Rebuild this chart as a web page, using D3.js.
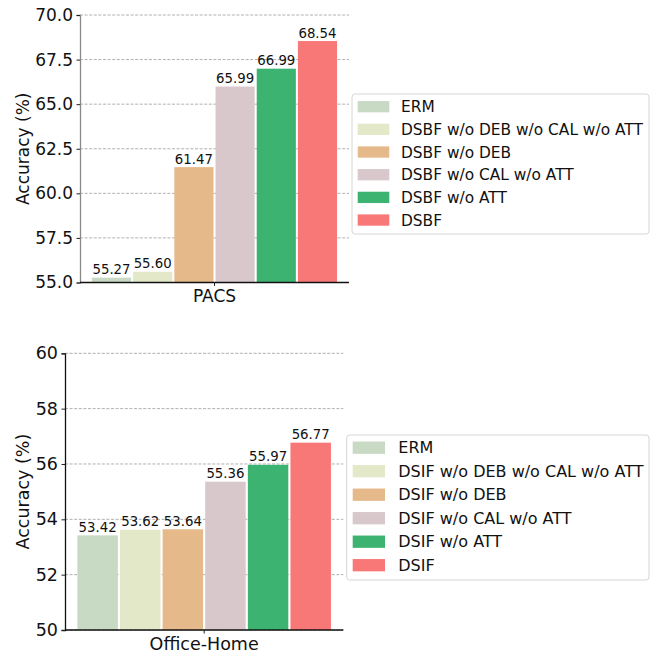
<!DOCTYPE html>
<html>
<head>
<meta charset="utf-8">
<script src="https://d3js.org/d3.v7.min.js"></script>
<style>
  body { margin: 0; background: #fff; }
  text { font-family: "DejaVu Sans", sans-serif; fill: #111; }
</style>
</head>
<body>
<svg width=652 height=654></svg>
<script>
// data
var colors = ["#c8dac4", "#e2e8c8", "#e6b98a", "#d8c8cc", "#3cb371", "#f87878"]

var pacsNames = ["ERM", "DSBF w/o DEB w/o CAL w/o ATT", "DSBF w/o DEB", "DSBF w/o CAL w/o ATT", "DSBF w/o ATT", "DSBF"]
var pacsValues = [55.27, 55.60, 61.47, 65.99, 66.99, 68.54]
var pacsTicks = [55.0, 57.5, 60.0, 62.5, 65.0, 67.5, 70.0]

var ohNames = ["ERM", "DSIF w/o DEB w/o CAL w/o ATT", "DSIF w/o DEB", "DSIF w/o CAL w/o ATT", "DSIF w/o ATT", "DSIF"]
var ohValues = [53.42, 53.62, 53.64, 55.36, 55.97, 56.77]
var ohTicks = [50, 52, 54, 56, 58, 60]

var svg = d3.select('svg')

function panel(cfg) {
  var g = svg.append('g')
  var x = d3.scaleBand()
    .domain(d3.range(cfg.values.length))
    .range([cfg.left, cfg.right])
    .paddingInner(0.05)
    .paddingOuter(0.29)
  var y = d3.scaleLinear()
    .domain(cfg.domain)
    .range([cfg.bottom, cfg.top])

  // grid
  g.selectAll('.grid')
    .data(cfg.ticks)
    .enter().append('line')
    .attr('x1', cfg.left)
    .attr('x2', cfg.right)
    .attr('y1', d => y(d))
    .attr('y2', d => y(d))
    .attr('stroke', '#b0b0b0')
    .attr('stroke-width', 1)
    .attr('stroke-dasharray', '3,1.6')

  // bars
  g.selectAll('.bar')
    .data(cfg.values)
    .enter().append('rect')
    .attr('x', (d, i) => x(i))
    .attr('width', x.bandwidth())
    .attr('y', d => y(d))
    .attr('height', d => cfg.bottom - y(d))
    .attr('fill', (d, i) => colors[i])

  // value labels
  g.selectAll('.lbl')
    .data(cfg.values)
    .enter().append('text')
    .attr('x', (d, i) => x(i) + x.bandwidth() / 2)
    .attr('y', d => y(d) - 3.5)
    .attr('text-anchor', 'middle')
    .style('font-size', '13.3px')
    .text(d => d.toFixed(2))

  // y axis
  var yAxis = d3.axisLeft(y)
    .tickValues(cfg.ticks)
    .tickFormat(cfg.fmt)
    .tickSize(3.5)
    .tickPadding(3.5)
  var ya = g.append('g')
    .attr('transform', 'translate(' + cfg.left + ',0)')
    .call(yAxis)
  ya.select('.domain').attr('stroke', cfg.spine).attr('stroke-width', 1.3)
  ya.selectAll('.tick line').attr('stroke', '#222').attr('stroke-width', 1)
  ya.selectAll('.tick text')
    .style('font-size', cfg.tickSize + 'px')
    .style('font-family', '"DejaVu Sans", sans-serif')
    .attr('fill', '#111')

  // x axis spine + single tick
  g.append('line')
    .attr('x1', cfg.left).attr('x2', cfg.right)
    .attr('y1', cfg.bottom).attr('y2', cfg.bottom)
    .attr('stroke', '#111').attr('stroke-width', 1.3)
  var cx = (cfg.left + cfg.right) / 2
  g.append('line')
    .attr('x1', cx).attr('x2', cx)
    .attr('y1', cfg.bottom).attr('y2', cfg.bottom + 3.5)
    .attr('stroke', '#222')
  g.append('text')
    .attr('x', cx)
    .attr('y', cfg.bottom + cfg.xlabY)
    .attr('text-anchor', 'middle')
    .style('font-size', cfg.tickSize + 'px')
    .text(cfg.xlabel)

  // y label
  g.append('text')
    .attr('transform', 'translate(' + cfg.ylabX + ',' + ((cfg.top + cfg.bottom) / 2) + ') rotate(-90)')
    .attr('text-anchor', 'middle')
    .style('font-size', cfg.tickSize + 'px')
    .text('Accuracy (%)')

  // legend
  var L = cfg.legend
  g.append('rect')
    .attr('x', L.x).attr('y', L.y)
    .attr('width', L.w).attr('height', L.h)
    .attr('rx', 3)
    .attr('fill', 'rgba(255,255,255,0.85)')
    .attr('stroke', '#d6d6d6')
    .attr('stroke-width', 1)
  var items = g.selectAll('.leg')
    .data(cfg.names)
    .enter().append('g')
    .attr('transform', (d, i) => 'translate(0,' + (L.row0 + i * L.step) + ')')
  items.append('rect')
    .attr('x', L.px)
    .attr('y', -L.ph / 2)
    .attr('width', L.pw)
    .attr('height', L.ph)
    .attr('fill', (d, i) => colors[i])
  items.append('text')
    .attr('x', L.tx)
    .attr('y', L.fs * 0.36)
    .style('font-size', L.fs + 'px')
    .text(d => d)
}

panel({
  values: pacsValues, names: pacsNames, ticks: pacsTicks,
  domain: [55, 70], fmt: d3.format('.1f'),
  left: 80, right: 349, top: 15, bottom: 282.5,
  spine: '#888', tickSize: 17, xlabel: 'PACS', xlabY: 19.5, ylabX: 29,
  legend: { x: 352, y: 94, w: 297, h: 140, row0: 106.7, step: 22.67,
            px: 357.7, pw: 31.6, ph: 11.3, tx: 401, fs: 15.4 }
})

panel({
  values: ohValues, names: ohNames, ticks: ohTicks,
  domain: [50, 60], fmt: d3.format('d'),
  left: 65, right: 343.3, top: 353.3, bottom: 630,
  spine: '#111', tickSize: 17.5, xlabel: 'Office-Home', xlabY: 20, ylabX: 29,
  legend: { x: 346.7, y: 435, w: 302.3, h: 145, row0: 447.7, step: 23.5,
            px: 352.7, pw: 32.3, ph: 12.3, tx: 398.3, fs: 16 }
})
</script>
</body>
</html>
